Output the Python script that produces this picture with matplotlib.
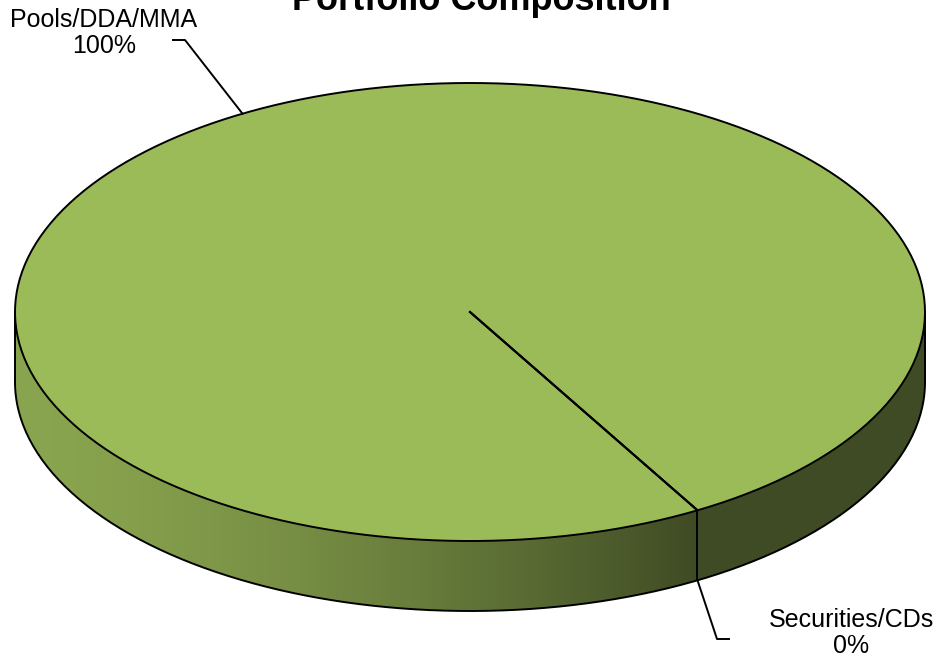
import numpy as np
import matplotlib.pyplot as plt
from matplotlib.patches import Polygon
from matplotlib.colors import to_rgb

plt.rcParams['font.family'] = ['Liberation Sans', 'DejaVu Sans']

# data
labels = ['Pools/DDA/MMA', 'Securities/CDs']
values = [100, 0]
title = 'Portfolio Composition'

# pie layout (pixels)
cx, cy = 470, 312
rx, ry = 455, 229
depth = 70
start = -60.0  # degrees, slices run clockwise

top_color = '#9BBB59'
side_light = to_rgb('#8AA54F')
side_dark = to_rgb('#3F4B24')


def pt(theta, dz=0.0):
    t = np.radians(theta)
    return cx + rx * np.cos(t), cy - ry * np.sin(t) + dz


def arc(a0, a1, dz=0.0, n=200):
    th = np.linspace(a0, a1, n)
    x, y = pt(th, dz)
    return np.column_stack([x, y])


def main():
    fig = plt.figure(figsize=(9.37, 6.64), dpi=100)
    ax = fig.add_axes([0, 0, 1, 1])
    ax.set_xlim(0, 937)
    ax.set_ylim(664, 0)
    ax.axis('off')

    fracs = np.array(values, dtype=float) / sum(values)
    bounds = start - 360 * np.concatenate([[0], np.cumsum(fracs)])
    mids = (bounds[:-1] + bounds[1:]) / 2

    # side face, split where slice edges cross the front half
    cuts = sorted({(b % 360) for b in bounds if 180 < (b % 360) < 360})
    edges = [180.0] + cuts + [360.0]
    for i in range(len(edges) - 1):
        a0, a1 = edges[i], edges[i + 1]
        poly = np.vstack([arc(a0, a1), arc(a1, a0, depth)])
        if i == 0:
            patch = Polygon(poly, closed=True, facecolor='none', edgecolor='none')
            ax.add_patch(patch)
            x0, x1 = pt(a0)[0], pt(a1)[0]
            t = np.linspace(0, 1, 400) ** 1.5
            grad = np.array([[(1 - v) * np.array(side_light) + v * np.array(side_dark) for v in t]])
            im = ax.imshow(grad, extent=[x0, x1, cy + ry + depth + 5, cy - 5],
                           aspect='auto', zorder=1)
            im.set_clip_path(patch)
        else:
            ax.add_patch(Polygon(poly, closed=True, facecolor=side_dark,
                                 edgecolor='none', zorder=1))

    # side outline
    ax.plot(*arc(180, 360, depth).T, color='black', lw=1.4, zorder=3)
    for a in edges:
        x, y = pt(a)
        ax.plot([x, x], [y, y + depth], color='black', lw=1.4, zorder=3)

    # top face
    for i, f in enumerate(fracs):
        if f > 0:
            a0, a1 = bounds[i], bounds[i + 1]
            pts = arc(a0, a1)
            if f < 1:
                pts = np.vstack([[cx, cy], pts])
            ax.add_patch(Polygon(pts, closed=True, facecolor=top_color,
                                 edgecolor='black', lw=1.4, zorder=2))
    for b in bounds:
        x, y = pt(b)
        ax.plot([cx, x], [cy, y], color='black', lw=1.4, zorder=3)

    # labels with leader lines
    x, y = pt(mids[0])
    ax.plot([173, 185, x], [40, 40, y], color='black', lw=1.4, zorder=4)
    ax.text(104, 33, f'{labels[0]}\n{values[0]:.0f}%', ha='center', va='center',
            fontsize=18, linespacing=1.12)

    x, y = pt(mids[1], depth)
    ax.plot([x, 717, 729], [y, 639, 639], color='black', lw=1.4, zorder=4)
    ax.text(851, 633, f'{labels[1]}\n{values[1]:.0f}%', ha='center', va='center',
            fontsize=18, linespacing=1.12)

    ax.text(481, 10, title, ha='center', va='baseline', fontsize=26,
            fontweight='bold')

    fig.savefig('out.png', dpi=100)


if __name__ == "__main__":
    main()
